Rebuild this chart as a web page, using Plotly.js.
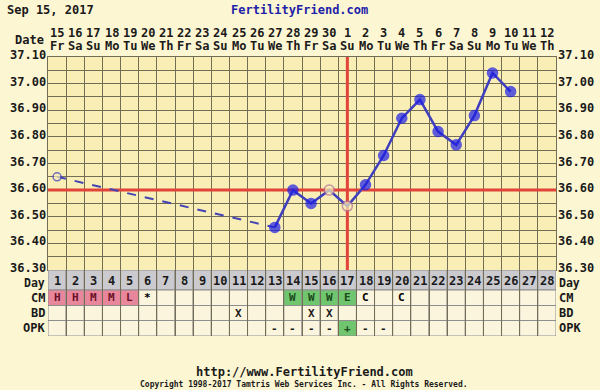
<!DOCTYPE html>
<html><head><meta charset="utf-8">
<script src="https://cdn.plot.ly/plotly-3.0.1.min.js"></script>
<style>html,body{margin:0;padding:0;background:#FDF6D3;} #chart{width:600px;height:390px;}</style>
</head><body><div id="chart"></div>
<script>
// ---- data ----
const cycleDays = [1,2,3,4,5,6,7,8,9,10,11,12,13,14,15,16,17,18,19,20,21,22,23,24,25,26,27,28];
const dateLabels = ['15','16','17','18','19','20','21','22','23','24','25','26','27','28','29','30','1','2','3','4','5','6','7','8','9','10','11','12'];
const dowLabels = ['Fr','Sa','Su','Mo','Tu','We','Th','Fr','Sa','Su','Mo','Tu','We','Th','Fr','Sa','Su','Mo','Tu','We','Th','Fr','Sa','Su','Mo','Tu','We','Th'];
const tempDays = [1,13,14,15,16,17,18,19,20,21,22,23,24,25,26];
const temps = [36.65,36.46,36.60,36.55,36.60,36.54,36.62,36.73,36.87,36.94,36.82,36.77,36.88,37.04,36.97];
const openDays = [1,16,17];
const coverline = 36.60;
const ovulationDay = 17;
const cmCodes = ['H','H','M','M','L','*','','','','','','','','W','W','W','E','C','','C','','','','','','','',''];
const bdCodes = ['','','','','','','','','','','X','','','','X','X','','','','','','','','','','','',''];
const opkCodes = ['','','','','','','','','','','','','-','-','-','-','+','-','-','','','','','','','','',''];
const yTickVals = [36.30,36.40,36.50,36.60,36.70,36.80,36.90,37.00,37.10];
const rowNames = ['Day','CM','BD','OPK'];

// ---- styles ----
const FONT = 'DejaVu Sans Mono, monospace';
const gridCol = '#736D55';
const plotBg = '#F9EFB6';
const cellBg = '#FCF5DD';
const dayBg = '#CACACF';
const pink = '#E8869B';
const green = '#6FC66F';
const redCol = '#E2443A';
const rowEdges = [0,20,35.5,50.5,66];

function cmFill(c){ if(c && 'HML'.includes(c)) return pink; if(c && 'WE'.includes(c)) return green; return cellBg; }
function cmText(c){ if(c && 'HML'.includes(c)) return '#6A1028'; if(c && 'WE'.includes(c)) return '#1B4A1B'; return '#000'; }
const bold = (size,color)=>({family:FONT, size:size, color:color||'#1a1a1a', weight:'bold'});

const shapes = [];
const annotations = [];

// temperature labels on both sides
yTickVals.forEach(v=>{
  const t = v.toFixed(2);
  annotations.push({xref:'paper', yref:'y', x:0, y:v, xshift:-1, yshift:2, text:t, showarrow:false, xanchor:'right', yanchor:'middle', borderpad:0, font:bold(12)});
  annotations.push({xref:'paper', yref:'y', x:1, y:v, xshift:1, yshift:2, text:t, showarrow:false, xanchor:'left', yanchor:'middle', borderpad:0, font:bold(12)});
});

// table cells
cycleDays.forEach((d,i)=>{
  const fills = [dayBg, cmFill(cmCodes[i]), cellBg, opkCodes[i]==='+' ? green : cellBg];
  for(let r=0;r<4;r++){
    shapes.push({type:'rect', xref:'x', yref:'y2', x0:d-0.5, x1:d+0.5, y0:rowEdges[r], y1:rowEdges[r+1],
      fillcolor:fills[r], line:{color:'#8E8E8E', width:1}, layer:'below'});
  }
  const texts = [String(d), cmCodes[i], bdCodes[i], opkCodes[i]];
  const colors = ['#1a1a1a', cmText(cmCodes[i]), '#1a1a1a', opkCodes[i]==='+' ? '#1B4A1B' : '#1a1a1a'];
  for(let r=0;r<4;r++){
    if(!texts[r]) continue;
    annotations.push({xref:'x', yref:'y2', x:d, y:(rowEdges[r]+rowEdges[r+1])/2, yshift:r===0?-1:0, text:texts[r], showarrow:false,
      font:bold(r===0?12:11, colors[r]), xanchor:'center', yanchor:'middle'});
  }
  annotations.push({xref:'x', yref:'paper', x:d, y:1, yshift:24, text:dateLabels[i], showarrow:false,
    font:bold(12), xanchor:'center', yanchor:'middle'});
  annotations.push({xref:'x', yref:'paper', x:d, y:1, yshift:11, text:dowLabels[i], showarrow:false,
    font:bold(12), xanchor:'center', yanchor:'middle'});
});
rowNames.forEach((n,r)=>{
  const yc = (rowEdges[r]+rowEdges[r+1])/2;
  const ys = r===0 ? -3 : 0;
  const sz = r===0 ? 11.5 : 12;
  annotations.push({xref:'paper', yref:'y2', x:0, y:yc, xshift:-2, yshift:ys, text:n, showarrow:false, xanchor:'right', yanchor:'middle', borderpad:0, font:bold(sz)});
  annotations.push({xref:'paper', yref:'y2', x:1, y:yc, xshift:2, yshift:ys, text:n, showarrow:false, xanchor:'left', yanchor:'middle', borderpad:0, font:bold(sz)});
});
annotations.push({xref:'paper', yref:'paper', x:0, y:1, xshift:-2, yshift:17, text:'Date', showarrow:false, xanchor:'right', yanchor:'middle', font:bold(12)});
annotations.push({xref:'paper', yref:'paper', x:0, y:1, xshift:-43, yshift:47, text:'Sep 15, 2017', showarrow:false, xanchor:'left', yanchor:'middle', font:bold(12)});
annotations.push({xref:'paper', yref:'paper', x:0.5, y:1, xshift:-3, yshift:47, text:'FertilityFriend.com', showarrow:false, xanchor:'center', yanchor:'middle', font:bold(12,'#1E22A8')});
annotations.push({xref:'paper', yref:'paper', x:0.5, y:0, xshift:2, yshift:-36, text:'http://www.FertilityFriend.com', showarrow:false, xanchor:'center', yanchor:'middle', font:bold(12)});
annotations.push({xref:'paper', yref:'paper', x:0.5, y:0, xshift:2, yshift:-48, text:'Copyright 1998-2017 Tamtris Web Services Inc. - All Rights Reserved.', showarrow:false, xanchor:'center', yanchor:'middle', font:bold(8)});

// traces
const solidX = tempDays.filter(d=>d>=13);
const solidY = temps.filter((t,i)=>tempDays[i]>=13);
const traces = [
  {x:[0.5,28.5], y:[coverline,coverline], mode:'lines', line:{color:redCol, width:3}, hoverinfo:'skip'},
  {x:[ovulationDay,ovulationDay], y:[yTickVals[0], yTickVals[yTickVals.length-1]], mode:'lines', line:{color:redCol, width:3}, hoverinfo:'skip'},
  {x:[tempDays[0], tempDays[1]], y:[temps[0], temps[1]], mode:'lines', line:{color:'#4343B4', width:2, dash:'dash'}, hoverinfo:'skip'},
  {x:solidX, y:solidY, mode:'lines', line:{color:'#3E3EBE', width:2.5}, hoverinfo:'skip'},
  {x:tempDays, y:temps, mode:'markers', hoverinfo:'skip',
    marker:{size:tempDays.map(d=>d===1?8:10),
      color:tempDays.map(d=>openDays.includes(d)?plotBg:'#1E1EE6'),
      line:{width:1.5, color:tempDays.map(d=>d===1?'#3A3AC0':(openDays.includes(d)?'#B06C9A':'#1E1EE6'))}}},
  {x:[null], y:[null], yaxis:'y2', hoverinfo:'skip'}
];

const layout = {
  width:600, height:390, showlegend:false,
  paper_bgcolor:'#FDF6D3', plot_bgcolor:plotBg,
  margin:{l:48, r:44, t:57, b:54},
  font:bold(12),
  xaxis:{range:[0.5,28.5], tickvals:cycleDays.map(d=>d+0.5), showticklabels:false, ticks:'',
    showgrid:true, gridcolor:gridCol, gridwidth:1, zeroline:false, showline:true, linecolor:gridCol, mirror:true, fixedrange:true},
  yaxis:{domain:[66/279,1], range:[36.30,37.10], tickvals:yTickVals, showticklabels:false, ticks:'',
    showgrid:true, gridcolor:gridCol, gridwidth:1, zeroline:false, showline:true, linecolor:gridCol, mirror:true,
    minor:{dtick:0.05, tick0:36.30, showgrid:true, gridcolor:gridCol, gridwidth:1}},
  yaxis2:{domain:[0,66/279], range:[66,0], visible:false, fixedrange:true},
  shapes:shapes, annotations:annotations
};
Plotly.newPlot('chart', traces, layout, {displayModeBar:false, staticPlot:true});
</script></body></html>
